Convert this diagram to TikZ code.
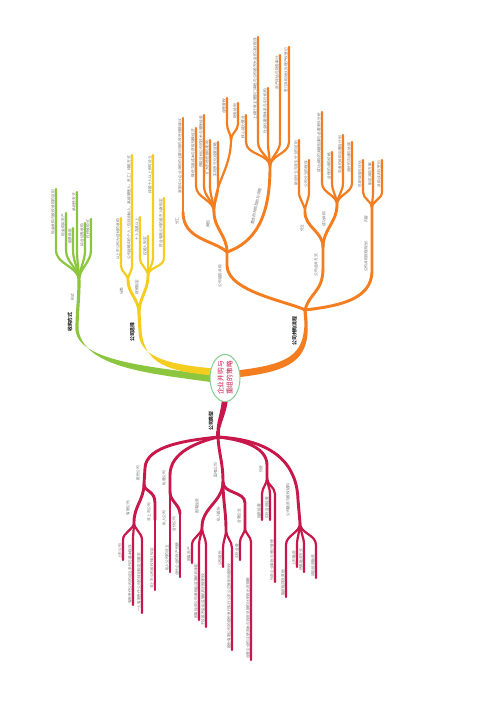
\documentclass[tikz,border=0pt]{standalone}
\usepackage{fontspec}
\setmainfont{Noto Sans CJK SC}
\usetikzlibrary{shapes.geometric}

\definecolor{mgreen}{HTML}{8CC63F}
\definecolor{myellow}{HTML}{F5CD1E}
\definecolor{morange}{HTML}{F47D20}
\definecolor{mred}{HTML}{C8174B}
\definecolor{ringgreen}{HTML}{86CF96}
\definecolor{leafgray}{HTML}{6E6E6E}

\begin{document}
\begin{tikzpicture}[
    x=0.02cm, y=0.02cm, line cap=round,
    twig/.style={line width=1.25pt},
    bough/.style={line width=1.65pt},
    txt/.style={rotate=90, font=\fontsize{2.1}{2.5}\selectfont, text=leafgray, inner sep=0.5pt},
    up/.style={txt, anchor=south east},
    down/.style={txt, anchor=south west},
    tag/.style={txt, anchor=south},
    headtag/.style={rotate=90, anchor=south, inner sep=0.5pt, font=\fontsize{2.8}{3.2}\selectfont\bfseries, text=black!85},
    hub/.style={ellipse, draw=ringgreen, line width=0.6pt, fill=white, rotate=90, minimum width=0.86cm, minimum height=0.6cm, inner sep=0pt, align=center, font=\fontsize{3.8}{5.2}\selectfont, text=mred}
]

\useasboundingbox (0,0) rectangle (500,-707);
\fill[white] (0,0) rectangle (500,-707);

% Main boughs (tapered)
\fill[mgreen] (214,-375.5) .. controls (150,-366.5) and (79,-361.5) .. (75.5,-330) -- (78.5,-330) .. controls (85,-368) and (150,-373.5) .. (214,-382.5) -- cycle;
\fill[myellow] (214,-368.5) .. controls (170,-364.5) and (137.5,-358) .. (138.5,-330) -- (141.5,-330) .. controls (144,-365) and (170,-371.5) .. (214,-375.5) -- cycle;
\fill[morange] (236,-370.5) .. controls (289,-364.5) and (304,-355) .. (304.5,-322) -- (307.5,-322) .. controls (310,-360) and (291,-371.5) .. (236,-377.5) -- cycle;
\fill[mred] (222,-396) .. controls (222,-410) and (216.5,-420) .. (216.5,-432) -- (219.5,-432) .. controls (221.5,-420) and (228,-410) .. (228,-396) -- cycle;

% Green: 收购方式
\coordinate (gS) at (77,-330);
\coordinate (gF) at (79,-281);
\coordinate (gB) at (0,-250);
\draw[mgreen, line width=1.8pt] (gS) to[out=90,in=-90] (gF);
\node[headtag] (gHead) at (73.5,-322) {收购方式};
\node[tag] (gTag) at (75.5,-297) {形式};
\node[up] (g1) at (56,-189) {现金收购与股权收购的区别};
\node[up] (g2) at (66,-213) {现金购买资产};
\node[up] (g3) at (73,-228) {股票换股};
\node[up] (g4) at (77,-192) {承担债务式};
\node[up] (g5) at (85,-223) {综合证券收购};
\node[up] (g6) at (91,-219) {杠杆收购式};
\draw[twig, mgreen] (gF) to[out=90,in=-90] (g1.south east |- gB) -- (g1.south east);
\draw[twig, mgreen] (gF) to[out=90,in=-90] (g2.south east |- gB) -- (g2.south east);
\draw[twig, mgreen] (gF) to[out=90,in=-90] (g3.south east |- gB) -- (g3.south east);
\draw[twig, mgreen] (gF) to[out=90,in=-90] (g4.south east |- gB) -- (g4.south east);
\draw[twig, mgreen] (gF) to[out=90,in=-90] (g5.south east |- gB) -- (g5.south east);
\draw[twig, mgreen] (gF) to[out=90,in=-90] (g6.south east |- gB) -- (g6.south east);

% Yellow: 公司选择
\coordinate (yS) at (140,-330);
\coordinate (yF) at (139,-313);
\coordinate (yL) at (128,-280);
\coordinate (yR) at (148,-276);
\coordinate (yLB) at (0,-266);
\coordinate (yRB) at (0,-258);
\draw[myellow, line width=1.8pt] (yS) -- (yF);
\draw[bough, myellow] (yF) to[out=90,in=-90] (yL);
\draw[bough, myellow] (yF) to[out=90,in=-90] (yR);
\node[headtag] (yHead) at (136,-332) {公司选择};
\node[tag] (yLTag) at (124.5,-291) {分类};
\node[tag] (yRTag) at (140,-287) {按照规定};
\node[up] (y1) at (121,-218) {以上市公司为目标的收购};
\node[up] (y2) at (132,-155) {公司战略中的个人（包括创始人、高级管理人、员工）持股方式};
\node[up] (y3) at (140,-217) {十人及其以上};
\node[up] (y4) at (148,-236) {控股人规定};
\node[up] (y5) at (153,-155) {持股十人以上即可设立};
\node[up] (y6) at (164,-198) {符合有限公司的股东人数规定};
\draw[twig, myellow] (yL) to[out=90,in=-90] (y1.south east |- yLB) -- (y1.south east);
\draw[twig, myellow] (yL) to[out=90,in=-90] (y2.south east |- yLB) -- (y2.south east);
\draw[twig, myellow] (yR) to[out=90,in=-90] (y3.south east |- yRB) -- (y3.south east);
\draw[twig, myellow] (yR) to[out=90,in=-90] (y4.south east |- yRB) -- (y4.south east);
\draw[twig, myellow] (yR) to[out=90,in=-90] (y5.south east |- yRB) -- (y5.south east);
\draw[twig, myellow] (yR) to[out=90,in=-90] (y6.south east |- yRB) -- (y6.south east);

% Orange: 公司并购流程
\coordinate (oS) at (306,-322);
\coordinate (oF) at (305,-310);
\draw[morange, line width=1.8pt] (oS) -- (oF);
\node[headtag] (oHead) at (298,-331) {公司并购流程};

% -- left part
\coordinate (oA) at (227,-252);
\coordinate (oA1) at (183,-212);
\coordinate (oA2) at (214,-212);
\coordinate (oX) at (231,-140);
\coordinate (oB) at (270,-167);
\coordinate (oA2B) at (0,-186);
\coordinate (oXB) at (0,-124);
\coordinate (oBB) at (0,-142);
\draw[bough, morange] (oF) .. controls (290,-302) and (228,-292) .. (227,-266) -- (oA);
\draw[bough, morange] (oA) .. controls (214,-240) and (183,-240) .. (oA1);
\draw[bough, morange] (oA) to[out=90,in=-90] (oA2);
\draw[bough, morange] (oA) .. controls (262,-240) and (270,-205) .. (oB);
\draw[twig, morange] (oA2) to[out=90,in=-90] (oX);
\node[tag] (oATag) at (223,-276) {公司能否并购};
\node[tag] (oA1Tag) at (180,-221) {分工};
\node[tag] (oA2Tag) at (211,-224) {原因};
\node[txt, rotate=-12, anchor=south] (oBTag) at (259,-207) {整合的并购目的与流程};
\node[up] (o1) at (183,-118) {我国中小企业并购的主要问题与改进措施建议};
\node[up] (o2) at (196,-128) {降低交易成本与获取规模经济};
\node[up] (o3) at (204,-115) {获取目标公司的技术与管理经验};
\node[up] (o4) at (210,-140) {扩大市场份额与影响};
\node[up] (o5) at (218,-142) {实现多元化经营战略};
\node[up] (o6) at (227,-98) {合理避税};
\node[up] (o7) at (238,-103) {财务协同};
\node[up] (b1) at (246,-115) {核心能力整合};
\node[up] (b2) at (258,-37) {上级行政主管部门审批与公司股东大会的决议程序};
\node[up] (b3) at (268,-88) {社会化服务体系与中介机构};
\node[up] (b4) at (280,-55) {资产评估与财务审计};
\node[up] (b5) at (289,-47) {签订并购协议办理产权登记};
\draw[twig, morange] (oA1) -- (o1.south east);
\draw[twig, morange] (oA2) to[out=90,in=-90] (o2.south east |- oA2B) -- (o2.south east);
\draw[twig, morange] (oA2) to[out=90,in=-90] (o3.south east |- oA2B) -- (o3.south east);
\draw[twig, morange] (oA2) to[out=90,in=-90] (o4.south east |- oA2B) -- (o4.south east);
\draw[twig, morange] (oA2) to[out=90,in=-90] (o5.south east |- oA2B) -- (o5.south east);
\draw[twig, morange] (oX) to[out=90,in=-90] (o6.south east |- oXB) -- (o6.south east);
\draw[twig, morange] (oX) to[out=90,in=-90] (o7.south east |- oXB) -- (o7.south east);
\draw[twig, morange] (oB) to[out=90,in=-90] (b1.south east |- oBB) -- (b1.south east);
\draw[twig, morange] (oB) to[out=90,in=-90] (b2.south east |- oBB) -- (b2.south east);
\draw[twig, morange] (oB) to[out=90,in=-90] (b3.south east |- oBB) -- (b3.south east);
\draw[twig, morange] (oB) to[out=90,in=-90] (b4.south east |- oBB) -- (b4.south east);
\draw[twig, morange] (oB) to[out=90,in=-90] (b5.south east |- oBB) -- (b5.south east);

% -- middle part
\coordinate (oC) at (323,-247);
\coordinate (oC1) at (305,-212);
\coordinate (oC2) at (337,-205);
\coordinate (oC1B) at (0,-192);
\coordinate (oC2B) at (0,-183);
\draw[bough, morange] (oF) .. controls (310,-292) and (323,-292) .. (323,-268) -- (oC);
\draw[bough, morange] (oC) to[out=90,in=-90] (oC1);
\draw[bough, morange] (oC) to[out=90,in=-90] (oC2);
\node[tag] (oCTag) at (319,-265) {公司合并方式};
\node[tag] (oC1Tag) at (305,-228) {分立};
\node[tag] (oC2Tag) at (327,-219) {成功并购};
\node[up] (c1) at (299,-140) {新设分立与派生分立的区别};
\node[up] (c2) at (309,-160) {公司分立的程序};
\node[up] (c3) at (322,-112) {成功并购的关键因素与必要条件分析};
\node[up] (c4) at (332,-152) {合理的并购价格};
\node[up] (c5) at (343,-135) {完善的并购后整合计划};
\node[up] (c6) at (352,-142) {良好的沟通与协调};
\draw[twig, morange] (oC1) to[out=90,in=-90] (c1.south east |- oC1B) -- (c1.south east);
\draw[twig, morange] (oC1) to[out=90,in=-90] (c2.south east |- oC1B) -- (c2.south east);
\draw[twig, morange] (oC2) to[out=90,in=-90] (c3.south east |- oC2B) -- (c3.south east);
\draw[twig, morange] (oC2) to[out=90,in=-90] (c4.south east |- oC2B) -- (c4.south east);
\draw[twig, morange] (oC2) to[out=90,in=-90] (c5.south east |- oC2B) -- (c5.south east);
\draw[twig, morange] (oC2) to[out=90,in=-90] (c6.south east |- oC2B) -- (c6.south east);

% -- right part
\coordinate (oD) at (372,-208);
\coordinate (oDB) at (0,-192);
\draw[bough, morange] (oF) .. controls (338,-306) and (371,-300) .. (372,-272) -- (oD);
\node[tag] (oDPath) at (369,-257) {公司并购流程规划};
\node[tag] (oDTag) at (369,-219) {内容};
\node[up] (d1) at (363,-160) {尽职调查与评估};
\node[up] (d2) at (373,-162) {制定并购方案};
\node[up] (d3) at (382,-160) {并购谈判与签约};
\draw[twig, morange] (oD) to[out=90,in=-90] (d1.south east |- oDB) -- (d1.south east);
\draw[twig, morange] (oD) to[out=90,in=-90] (d2.south east |- oDB) -- (d2.south east);
\draw[twig, morange] (oD) to[out=90,in=-90] (d3.south east |- oDB) -- (d3.south east);

% Red: 公司类型
\coordinate (rS) at (218,-432);
\coordinate (rF) at (218,-437);
\draw[mred, line width=1.8pt] (rS) -- (rF);
\node[headtag] (rHead) at (214.5,-421) {公司类型};

% -- 股份公司
\coordinate (rA) at (144,-484);
\coordinate (rA1) at (134,-522);
\coordinate (rA2) at (155,-520);
\coordinate (rA1B) at (0,-540);
\draw[bough, mred] (rF) .. controls (190,-440) and (146,-445) .. (145,-468) -- (rA);
\draw[bough, mred] (rA) to[out=-90,in=90] (rA1);
\draw[bough, mred] (rA) .. controls (144,-492) and (155,-490) .. (155,-503) -- (rA2);
\node[tag] (rATag) at (141,-473) {股份公司};
\node[tag] (rA1Tag) at (131,-508) {有限公司};
\node[tag] (rA2Tag) at (152,-512) {非上市公司};
\node[down] (a1) at (123,-560) {上市公司};
\node[down] (a2) at (133,-605) {有限责任公司的设立条件与基本程序};
\node[down] (a3) at (142,-613) {一人有限责任公司的特别规定与要求};
\node[down] (a4) at (155,-590) {非上市公司股权转让规定};
\draw[twig, mred] (rA1) to[out=-90,in=90] (a1.south west |- rA1B) -- (a1.south west);
\draw[twig, mred] (rA1) to[out=-90,in=90] (a2.south west |- rA1B) -- (a2.south west);
\draw[twig, mred] (rA1) to[out=-90,in=90] (a3.south west |- rA1B) -- (a3.south west);
\draw[twig, mred] (rA2) -- (a4.south west);

% -- 私营公司
\coordinate (rB) at (170,-492);
\coordinate (rB2) at (180,-514);
\draw[bough, mred] (rF) .. controls (198,-442) and (170,-452) .. (170,-475) -- (rB);
\draw[bough, mred] (rB) to[out=-90,in=90] (rB2);
\node[tag] (rBTag) at (167,-478) {私营公司};
\node[tag] (rB1Tag) at (167,-518) {私人公司};
\node[tag] (rB2Tag) at (177,-524) {合伙公司};
\node[down] (p1) at (170,-572) {私人公司的设立};
\node[down] (p2) at (180,-577) {合伙企业的财产份额};
\draw[twig, mred] (rB) -- (p1.south west);
\draw[twig, mred] (rB2) -- (p2.south west);

% -- 国有公司
\coordinate (rC) at (223,-482);
\coordinate (rC1) at (202,-527);
\coordinate (rC2) at (226,-530);
\coordinate (rC3a) at (245,-503);
\coordinate (rC3) at (245,-528);
\coordinate (rC1B) at (0,-545);
\coordinate (rC2B) at (0,-548);
\coordinate (rC3B) at (0,-542);
\draw[bough, mred] (rF) .. controls (219,-455) and (223,-462) .. (rC);
\draw[bough, mred] (rC) to[out=-90,in=90] (rC1);
\draw[bough, mred] (rC) to[out=-90,in=90] (rC2);
\draw[bough, mred] (rC) to[out=-90,in=90] (rC3a) -- (rC3);
\node[tag] (rCTag) at (218.5,-470) {国有公司};
\node[tag] (rC1Tag) at (200,-506) {国有独资};
\node[tag] (rC2Tag) at (221.5,-514) {私人股份};
\node[tag] (rC3Tag) at (242,-516) {合营企业};
\node[down] (k1) at (192,-563) {国有资产};
\node[down] (k2) at (199,-620) {国有独资公司章程由监管机构制定};
\node[down] (k3) at (206,-627) {不设股东会由监管机构行使职权};
\node[down] (k4) at (223,-567) {公司股份};
\node[down] (k5) at (232,-650) {股份有限公司的股份发行实行公平公正原则同股同权};
\node[down] (k6) at (240,-560) {中外合营};
\node[down] (k7) at (251,-660) {合营企业的注册资本与投资总额的比例及出资期限};
\draw[twig, mred] (rC1) to[out=-90,in=90] (k1.south west |- rC1B) -- (k1.south west);
\draw[twig, mred] (rC1) to[out=-90,in=90] (k2.south west |- rC1B) -- (k2.south west);
\draw[twig, mred] (rC1) to[out=-90,in=90] (k3.south west |- rC1B) -- (k3.south west);
\draw[twig, mred] (rC2) to[out=-90,in=90] (k4.south west |- rC2B) -- (k4.south west);
\draw[twig, mred] (rC2) to[out=-90,in=90] (k5.south west |- rC2B) -- (k5.south west);
\draw[twig, mred] (rC3) to[out=-90,in=90] (k6.south west |- rC3B) -- (k6.south west);
\draw[twig, mred] (rC3) to[out=-90,in=90] (k7.south west |- rC3B) -- (k7.south west);

% -- 外资
\coordinate (rD) at (267,-478);
\coordinate (rDB) at (0,-494);
\draw[bough, mred] (rF) .. controls (245,-440) and (267,-448) .. (267,-465) -- (rD);
\node[tag] (rDTag) at (264,-469) {外资};
\node[down] (e1) at (262,-520) {独资经营};
\node[down] (e2) at (270,-520) {中外合资经营};
\node[down] (e3) at (275,-582) {外资企业审批与登记管理};
\draw[twig, mred] (rD) to[out=-90,in=90] (e1.south west |- rDB) -- (e1.south west);
\draw[twig, mred] (rD) to[out=-90,in=90] (e2.south west |- rDB) -- (e2.south west);
\draw[twig, mred] (rD) to[out=-90,in=90] (e3.south west |- rDB) -- (e3.south west);

% -- 融资
\coordinate (rE) at (300,-523);
\coordinate (rEB) at (0,-545);
\draw[bough, mred] (rF) .. controls (275,-440) and (297,-465) .. (298,-500) -- (rE);
\node[tag] (rETag) at (291,-500) {公司融资与股权结构};
\node[down] (f1) at (286,-597) {融资租赁及其他};
\node[down] (f2) at (297,-567) {上市融资};
\node[down] (f3) at (304,-572) {债券融资方式};
\node[down] (f4) at (316,-578) {风险投资融资};
\draw[twig, mred] (rE) to[out=-90,in=90] (f1.south west |- rEB) -- (f1.south west);
\draw[twig, mred] (rE) to[out=-90,in=90] (f2.south west |- rEB) -- (f2.south west);
\draw[twig, mred] (rE) to[out=-90,in=90] (f3.south west |- rEB) -- (f3.south west);
\draw[twig, mred] (rE) to[out=-90,in=90] (f4.south west |- rEB) -- (f4.south west);

% Centre
\node[hub] (hub) at (225,-378) {企业并购与\\重组的策略};

\end{tikzpicture}
\end{document}
